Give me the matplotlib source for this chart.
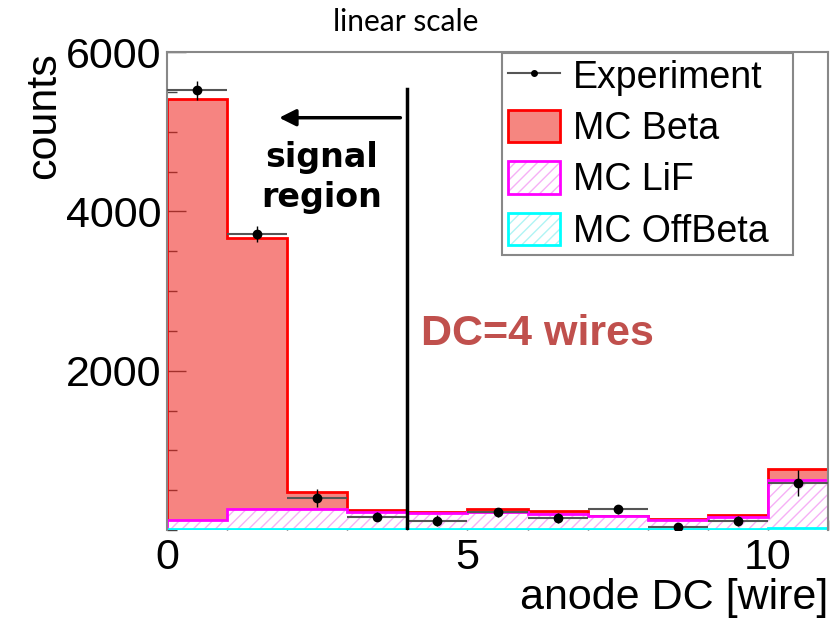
import matplotlib.pyplot as plt
import numpy as np
from matplotlib.lines import Line2D
from matplotlib.patches import Patch
from matplotlib.legend_handler import HandlerTuple
from matplotlib.ticker import MultipleLocator

# bins of anode DC [wire]
edges = np.arange(0, 12)

# MC components (stacked: OffBeta at bottom, then LiF, then Beta)
mc_offbeta = [15, 15, 15, 15, 15, 18, 18, 18, 18, 18, 20]
mc_lif = [115, 243, 247, 213, 197, 212, 182, 160, 110, 147, 605]
mc_beta = [5285, 3407, 216, 17, 20, 35, 37, 4, 10, 20, 135]

# experiment
exp_counts = [5520, 3720, 400, 167, 117, 221, 154, 258, 33, 112, 592]
exp_err = [120, 100, 110, 60, 70, 60, 60, 60, 50, 60, 160]

fig = plt.figure(figsize=(8.33, 6.24), dpi=100)
ax = fig.add_axes([167/833, 1-530/624, 661/833, 478/624])
ax.set_axisbelow(True)

top_off = np.array(mc_offbeta)
top_lif = top_off + np.array(mc_lif)
top_beta = top_lif + np.array(mc_beta)

# stacked histos, each drawn from zero (ROOT THStack style)
ax.stairs(top_beta, edges, baseline=0, fill=True, facecolor='#f0201a', alpha=0.55, lw=0)
ax.stairs(top_beta, edges, baseline=0, color='red', lw=2)
ax.stairs(top_lif, edges, baseline=0, fill=True, facecolor='white', edgecolor='#f6b0f6',
          hatch='///', lw=0)
ax.stairs(top_lif, edges, baseline=0, color='magenta', lw=2)
ax.stairs(top_off, edges, baseline=0, fill=True, facecolor='white', edgecolor='#b0f4f4',
          hatch='///', lw=0)
ax.stairs(top_off, edges, baseline=0, color='cyan', lw=2)

# data points
centers = (edges[:-1] + edges[1:]) / 2
halfw = np.diff(edges) / 2
ax.errorbar(centers, exp_counts, xerr=halfw, fmt='none', ecolor='#555555', elinewidth=1.5, zorder=5)
ax.errorbar(centers, exp_counts, yerr=exp_err, fmt='o', color='black', ms=6,
            elinewidth=1, capsize=0, zorder=6)

# signal region marker
ax.plot([4, 4], [0, 5530], color='black', lw=2.5, zorder=7)
ax.annotate('', xy=(1.82, 5175), xytext=(3.93, 5175),
            arrowprops=dict(arrowstyle='-|>', lw=2.5, color='black', mutation_scale=25))
ax.text(2.57, 4425, 'signal\nregion', ha='center', va='center', fontsize=24,
        fontweight='bold', family='DejaVu Sans', linespacing=1.28)
ax.text(4.22, 2460, 'DC=4 wires', ha='left', va='center', fontsize=31,
        fontweight='bold', family='Liberation Sans', color='#c0504d')

ax.set_xlim(0, 11)
ax.set_ylim(0, 6000)
ax.set_xticks([0, 5, 10])
ax.xaxis.set_minor_locator(MultipleLocator(1))
ax.set_yticks([2000, 4000, 6000])
ax.yaxis.set_minor_locator(MultipleLocator(500))
ax.tick_params(which='both', direction='in', color='#444444', width=1,
               labelsize=31, top=False, right=False)
ax.tick_params(which='major', length=14)
ax.tick_params(which='minor', length=7)
ax.tick_params(axis='y', pad=4)
ax.tick_params(axis='x', pad=6)
for lab in ax.get_xticklabels() + ax.get_yticklabels():
    lab.set_family('Liberation Sans')

for s in ['left', 'top', 'right']:
    ax.spines[s].set_color('#888888')
    ax.spines[s].set_linewidth(1.5)
ax.spines['bottom'].set_visible(False)

ax.set_xlabel('anode DC [wire]', fontsize=31, family='Liberation Sans', loc='right')
ax.xaxis.set_label_coords(1.0, -0.1)
ax.set_ylabel('counts', fontsize=31, family='Liberation Sans', loc='top')
ax.yaxis.set_label_coords(-0.155, 1.0)

fig.text(406/833, 1-22/624, 'linear scale', ha='center', va='center', fontsize=21.5, family='Lato')

# legend
h_exp = Line2D([], [], color='#555555', lw=1.5, marker='o', mfc='black', mec='black', ms=4)
h_beta = Patch(facecolor='#f58680', edgecolor='red', lw=2)
h_lif = (Patch(facecolor='white', edgecolor='#f6b0f6', hatch='///', lw=0),
         Patch(facecolor='none', edgecolor='magenta', lw=2))
h_off = (Patch(facecolor='white', edgecolor='#b0f4f4', hatch='///', lw=0),
         Patch(facecolor='none', edgecolor='cyan', lw=2))
leg = ax.legend([h_exp, h_beta, h_lif, h_off], ['Experiment', 'MC Beta', 'MC LiF', 'MC OffBeta'],
                handler_map={tuple: HandlerTuple(ndivide=1, pad=0)},
                loc='upper left', mode='expand',
                bbox_to_anchor=(502/833, (624-257)/624, 291/833, 204/624),
                bbox_transform=fig.transFigure, prop={'family': 'Liberation Sans', 'size': 27},
                fancybox=False, framealpha=1, edgecolor='#888888', borderpad=0.15,
                handlelength=1.4, handleheight=0.95, handletextpad=0.35, labelspacing=0.38,
                borderaxespad=0)
leg.get_frame().set_linewidth(1.5)
leg.set_zorder(10)

fig.savefig('out.png', dpi=100)
